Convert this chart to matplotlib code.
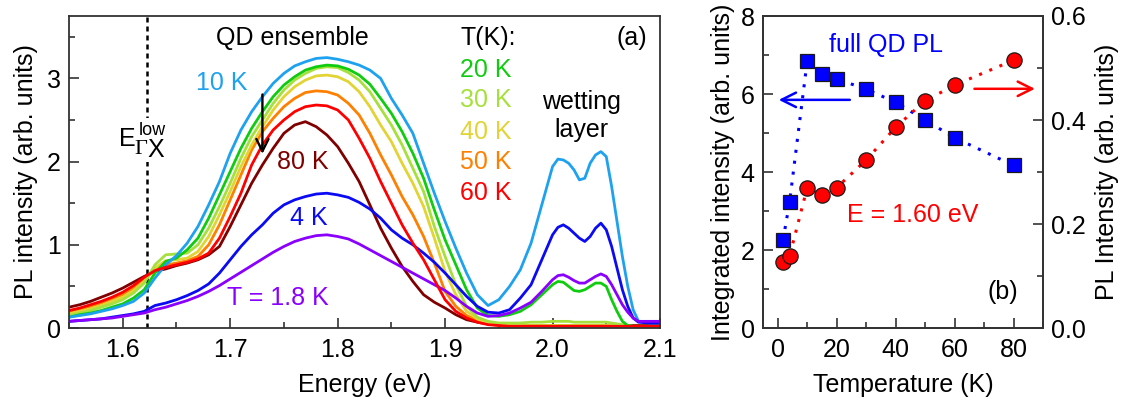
import numpy as np
import matplotlib.pyplot as plt
from matplotlib.ticker import MultipleLocator

plt.rcParams['font.family'] = ['Liberation Sans', 'DejaVu Sans']

# ---------------- (a) PL spectra ----------------
# photon energy sampling (eV)
energy = np.concatenate([np.round(np.arange(1.55, 1.955, 0.01), 3),
                         [1.96, 1.97, 1.98, 1.99, 2.00, 2.005, 2.01, 2.015, 2.02,
                          2.025, 2.03, 2.035, 2.04, 2.045, 2.05, 2.055, 2.06,
                          2.065, 2.07, 2.075, 2.08, 2.09, 2.10]])

pl_1p8K = [0.08, 0.09, 0.10, 0.11, 0.12, 0.14, 0.16, 0.18, 0.22, 0.25,
           0.29, 0.33, 0.38, 0.44, 0.51, 0.59, 0.67, 0.75, 0.83, 0.91,
           0.98, 1.04, 1.08, 1.11, 1.12, 1.10, 1.07, 1.01, 0.94, 0.87,
           0.80, 0.73, 0.66, 0.59, 0.52, 0.45, 0.36, 0.26, 0.18, 0.14,
           0.15, 0.18, 0.24, 0.31, 0.44, 0.58, 0.63, 0.64, 0.61, 0.57,
           0.54, 0.54, 0.58, 0.62, 0.65, 0.62, 0.52, 0.40, 0.28, 0.19,
           0.12, 0.08, 0.08, 0.08]
pl_4K = [0.08, 0.09, 0.10, 0.11, 0.13, 0.15, 0.17, 0.20, 0.27, 0.30,
         0.34, 0.39, 0.45, 0.53, 0.66, 0.82, 0.98, 1.12, 1.24, 1.38,
         1.48, 1.54, 1.58, 1.61, 1.62, 1.60, 1.57, 1.51, 1.43, 1.32,
         1.18, 1.08, 1.00, 0.90, 0.79, 0.66, 0.52, 0.38, 0.26, 0.19,
         0.18, 0.22, 0.36, 0.52, 0.82, 1.12, 1.21, 1.24, 1.20, 1.14,
         1.08, 1.04, 1.10, 1.20, 1.26, 1.18, 0.98, 0.72, 0.46, 0.26,
         0.12, 0.07, 0.06, 0.06]
pl_10K = [0.13, 0.15, 0.17, 0.20, 0.23, 0.27, 0.32, 0.42, 0.60, 0.76,
          0.87, 1.02, 1.22, 1.48, 1.76, 2.10, 2.38, 2.60, 2.78, 2.94,
          3.06, 3.15, 3.20, 3.24, 3.25, 3.23, 3.20, 3.16, 3.10, 3.00,
          2.76, 2.56, 2.34, 1.98, 1.62, 1.28, 0.96, 0.66, 0.40, 0.27,
          0.34, 0.50, 0.70, 1.02, 1.48, 1.94, 2.03, 2.02, 1.98, 1.90,
          1.78, 1.80, 1.98, 2.08, 2.12, 2.06, 1.70, 1.28, 0.86, 0.50,
          0.22, 0.08, 0.06, 0.06]
pl_20K = [0.13, 0.16, 0.18, 0.21, 0.25, 0.29, 0.36, 0.46, 0.66, 0.80,
          0.84, 0.94, 1.08, 1.32, 1.60, 1.88, 2.16, 2.40, 2.60, 2.78,
          2.92, 3.02, 3.10, 3.14, 3.16, 3.15, 3.11, 3.04, 2.93, 2.76,
          2.58, 2.36, 2.10, 1.80, 1.42, 1.06, 0.76, 0.46, 0.24, 0.15,
          0.14, 0.16, 0.20, 0.28, 0.40, 0.52, 0.56, 0.55, 0.50, 0.45,
          0.44, 0.46, 0.50, 0.54, 0.54, 0.50, 0.34, 0.20, 0.08, 0.03,
          0.02, 0.02, 0.02, 0.02]
pl_30K = [0.15, 0.18, 0.21, 0.25, 0.29, 0.34, 0.42, 0.54, 0.76, 0.88,
          0.89, 0.90, 1.00, 1.20, 1.46, 1.74, 2.04, 2.30, 2.50, 2.70,
          2.86, 2.98, 3.06, 3.12, 3.14, 3.13, 3.07, 2.98, 2.84, 2.64,
          2.44, 2.20, 1.92, 1.64, 1.22, 0.86, 0.52, 0.26, 0.13, 0.08,
          0.06, 0.06, 0.06, 0.07, 0.07, 0.08, 0.08, 0.08, 0.08, 0.07,
          0.07, 0.07, 0.07, 0.07, 0.07, 0.07, 0.06, 0.05, 0.04, 0.03,
          0.02, 0.02, 0.02, 0.02]
pl_40K = [0.17, 0.20, 0.23, 0.27, 0.32, 0.37, 0.45, 0.56, 0.72, 0.81,
          0.82, 0.84, 0.92, 1.10, 1.36, 1.64, 1.94, 2.20, 2.42, 2.62,
          2.78, 2.90, 2.98, 3.03, 3.04, 3.02, 2.96, 2.84, 2.66, 2.44,
          2.24, 1.98, 1.74, 1.46, 1.08, 0.68, 0.40, 0.20, 0.11, 0.06,
          0.04, 0.03, 0.03, 0.03, 0.03, 0.03, 0.03, 0.03, 0.03, 0.03,
          0.03, 0.03, 0.03, 0.03, 0.03, 0.03, 0.03, 0.03, 0.03, 0.02,
          0.02, 0.02, 0.02, 0.02]
pl_50K = [0.19, 0.22, 0.26, 0.30, 0.35, 0.40, 0.48, 0.58, 0.70, 0.76,
          0.78, 0.81, 0.86, 1.00, 1.24, 1.54, 1.84, 2.14, 2.36, 2.52,
          2.66, 2.76, 2.83, 2.85, 2.84, 2.80, 2.70, 2.56, 2.34, 2.08,
          1.84, 1.58, 1.36, 1.10, 0.78, 0.44, 0.26, 0.15, 0.09, 0.05,
          0.03, 0.02, 0.02, 0.02, 0.02, 0.02, 0.02, 0.02, 0.02, 0.02,
          0.02, 0.02, 0.02, 0.02, 0.02, 0.02, 0.02, 0.02, 0.02, 0.02,
          0.02, 0.02, 0.02, 0.02]
pl_60K = [0.21, 0.24, 0.28, 0.32, 0.37, 0.43, 0.51, 0.61, 0.69, 0.73,
          0.76, 0.79, 0.83, 0.90, 1.08, 1.34, 1.62, 1.96, 2.20, 2.38,
          2.50, 2.60, 2.66, 2.68, 2.67, 2.62, 2.50, 2.28, 2.04, 1.76,
          1.50, 1.24, 1.02, 0.82, 0.58, 0.34, 0.20, 0.12, 0.07, 0.04,
          0.03, 0.02, 0.02, 0.02, 0.02, 0.02, 0.02, 0.02, 0.02, 0.02,
          0.02, 0.02, 0.02, 0.02, 0.02, 0.02, 0.02, 0.02, 0.02, 0.02,
          0.02, 0.02, 0.02, 0.02]
pl_80K = [0.25, 0.28, 0.32, 0.37, 0.42, 0.48, 0.55, 0.62, 0.68, 0.71,
          0.75, 0.78, 0.82, 0.88, 0.98, 1.22, 1.48, 1.74, 1.96, 2.16,
          2.34, 2.44, 2.48, 2.42, 2.32, 2.18, 1.98, 1.76, 1.48, 1.20,
          0.96, 0.74, 0.56, 0.40, 0.31, 0.24, 0.16, 0.10, 0.07, 0.05,
          0.04, 0.03, 0.03, 0.03, 0.03, 0.03, 0.03, 0.03, 0.03, 0.03,
          0.03, 0.03, 0.03, 0.03, 0.03, 0.03, 0.03, 0.03, 0.03, 0.03,
          0.03, 0.03, 0.03, 0.03]

c_1p8K = '#8a00ff'
c_4K = '#0a0af5'
c_10K = '#1ea2f0'
c_20K = '#10cc10'
c_30K = '#a6e03c'
c_40K = '#e2d434'
c_50K = '#ff8000'
c_60K = '#ff0000'
c_80K = '#800000'

spectra = [(pl_80K, c_80K), (pl_50K, c_50K), (pl_40K, c_40K), (pl_30K, c_30K),
           (pl_20K, c_20K), (pl_10K, c_10K), (pl_4K, c_4K), (pl_1p8K, c_1p8K),
           (pl_60K, c_60K)]

e_gx_low = 1.623

# ---------------- (b) temperature dependence ----------------
temperature = [1.8, 4, 10, 15, 20, 30, 40, 50, 60, 80]
integrated_qd = [2.26, 3.22, 6.85, 6.51, 6.39, 6.12, 5.79, 5.33, 4.88, 4.17]
pl_at_160 = [0.127, 0.138, 0.270, 0.255, 0.270, 0.323, 0.386, 0.437, 0.467, 0.515]

FS = 18
spine_c = '#333333'

fig = plt.figure(figsize=(11.28, 4.07), dpi=100)

ax = fig.add_axes([69 / 1128, 79 / 407, 591 / 1128, 312 / 407])
for y, c in spectra:
    ax.plot(energy, y, color=c, lw=2.0, solid_joinstyle='round')
ax.axvline(e_gx_low, color='black', ls=(0, (2.0, 1.6)), lw=1.8, zorder=1)
ax.set_xlim(1.55, 2.10)
ax.set_ylim(0, 3.75)
ax.xaxis.set_major_locator(MultipleLocator(0.1))
ax.xaxis.set_minor_locator(MultipleLocator(0.05))
ax.yaxis.set_major_locator(MultipleLocator(1))
ax.yaxis.set_minor_locator(MultipleLocator(0.5))
ax.xaxis.set_major_formatter(plt.FuncFormatter(lambda v, p: f'{v:.1f}'))
ax.tick_params(which='both', direction='in', top=False, right=False,
               labelsize=FS, width=1.2, color=spine_c)
ax.tick_params(which='major', length=7)
ax.tick_params(which='minor', length=4)
ax.tick_params(axis='x', pad=7)
ax.tick_params(axis='y', pad=6)
for s in ax.spines.values():
    s.set_color(spine_c)
    s.set_linewidth(1.3)
ax.set_xlabel('Energy (eV)', fontsize=FS, labelpad=8)
ax.set_ylabel('PL intensity (arb. units)', fontsize=FS, labelpad=6)

ax.text(1.758, 3.48, 'QD ensemble', fontsize=FS, ha='center', va='center')
ax.text(1.914, 3.48, 'T(K):', fontsize=FS, ha='left', va='center')
ax.text(2.088, 3.48, '(a)', fontsize=FS, ha='right', va='center')
for lab, yv, c in [('20 K', 3.10, c_20K), ('30 K', 2.74, c_30K),
                   ('40 K', 2.36, c_40K), ('50 K', 1.99, c_50K),
                   ('60 K', 1.62, c_60K)]:
    ax.text(1.914, yv, lab, fontsize=FS, color=c, ha='left', va='center')
ax.text(2.027, 2.55, 'wetting\nlayer', fontsize=FS, ha='center', va='center',
        linespacing=1.2)
ax.text(1.692, 2.95, '10 K', fontsize=FS, color=c_10K, ha='center', va='center')
ax.text(1.7435, 1.99, '80 K', fontsize=FS, color=c_80K, ha='left', va='center')
ax.text(1.7556, 1.32, '4 K', fontsize=FS, color=c_4K, ha='left', va='center')
ax.text(1.697, 0.36, 'T = 1.8 K', fontsize=FS, color=c_1p8K, ha='left', va='center')

# E_GammaX^low label, masking the dashed line behind it
ax.fill_between([1.6105, 1.6375], 1.99, 2.52, color='white', lw=0, zorder=2)
ax.text(1.6044, 2.275, 'E', fontsize=FS, ha='center', va='center', zorder=3)
ax.text(1.6149, 2.37, 'low', fontsize=13, ha='left', va='center', zorder=3)
ax.text(1.6112, 2.145, 'Γ', fontsize=16, family='Liberation Serif',
        ha='left', va='center', zorder=3)
ax.text(1.6232, 2.145, 'X', fontsize=FS, ha='left', va='center', zorder=3)

ax.annotate('', xy=(1.73, 2.06), xytext=(1.73, 2.84),
            arrowprops=dict(arrowstyle='->', lw=1.7, color='black',
                            mutation_scale=22))

# panel (b)
axb = fig.add_axes([763 / 1128, 79 / 407, 280 / 1128, 312 / 407])
axr = axb.twinx()
axb.plot(temperature, integrated_qd, ls=(0, (1, 2.6)), color='#0000ff', lw=2.2,
         marker='s', ms=10, mfc='#0000ff', mec='#1a1a1a', mew=0.9, zorder=3)
axr.plot(temperature, pl_at_160, ls=(0, (1, 2.6)), color='#ff0000', lw=2.2,
         marker='o', ms=11, mfc='#ff0000', mec='#1a1a1a', mew=0.9, zorder=3)
axb.set_xlim(-5, 90)
axb.set_ylim(0, 8)
axr.set_ylim(0, 0.6)
axb.xaxis.set_major_locator(MultipleLocator(20))
axb.xaxis.set_minor_locator(MultipleLocator(10))
axb.yaxis.set_major_locator(MultipleLocator(2))
axb.yaxis.set_minor_locator(MultipleLocator(1))
axr.yaxis.set_major_locator(MultipleLocator(0.2))
axr.yaxis.set_minor_locator(MultipleLocator(0.1))
axr.yaxis.set_major_formatter(plt.FuncFormatter(lambda v, p: f'{v:.1f}'))
for a in (axb, axr):
    a.tick_params(which='both', direction='in', top=False,
                  labelsize=FS, width=1.2, color=spine_c)
    a.tick_params(which='major', length=7)
    a.tick_params(which='minor', length=4)
    for s in a.spines.values():
        s.set_color(spine_c)
        s.set_linewidth(1.3)
axb.tick_params(axis='y', which='both', right=False, pad=6)
axb.tick_params(axis='x', pad=7)
axr.tick_params(axis='y', pad=6)
axb.set_xlabel('Temperature (K)', fontsize=FS, labelpad=8)
axb.set_ylabel('Integrated intensity (arb. units)', fontsize=FS, labelpad=4)
axr.set_ylabel('PL Intensity (arb. units)', fontsize=FS, labelpad=6)

axb.text(36.9, 7.25, 'full QD PL', fontsize=FS, color='#0000ff',
         ha='center', va='center')
axb.text(45.8, 2.90, 'E = 1.60 eV', fontsize=FS, color='#ff0000',
         ha='center', va='center')
axb.text(76.3, 0.92, '(b)', fontsize=FS, ha='center', va='center')
axb.annotate('', xy=(-0.6, 5.85), xytext=(25.4, 5.85),
             arrowprops=dict(arrowstyle='->', lw=1.8, color='#0000ff',
                             mutation_scale=26))
axr.annotate('', xy=(88.2, 0.46), xytext=(65.8, 0.46),
             arrowprops=dict(arrowstyle='->', lw=1.8, color='#ff0000',
                             mutation_scale=26))

fig.savefig('out.png', dpi=100)
